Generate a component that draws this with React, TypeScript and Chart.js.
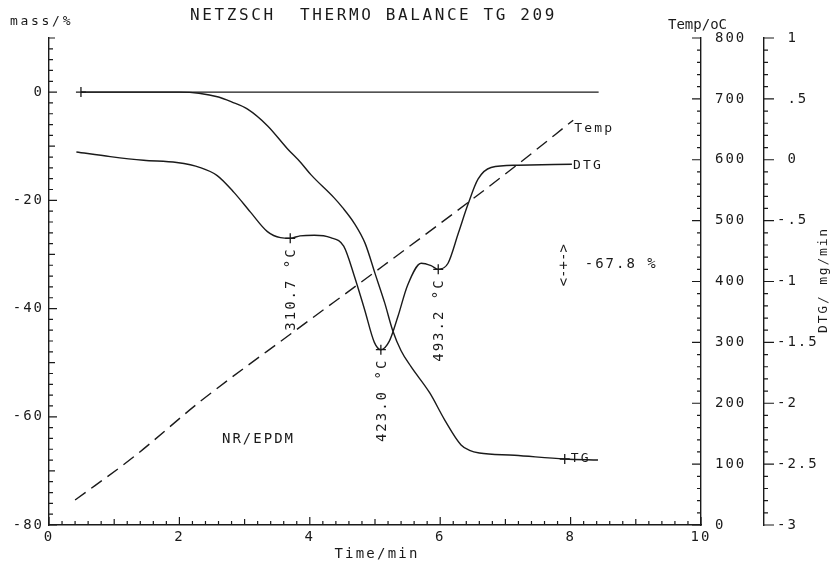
import React, { useEffect, useRef } from 'react';
import { Chart, registerables } from 'chart.js';

Chart.register(...registerables);

const INK = '#1a1a1a';
const FONT = "'DejaVu Sans Mono', 'Liberation Mono', monospace";

// ---- data ----
const tgTime = [0.49, 2.0, 2.3, 2.6, 2.8, 3.04, 3.35, 3.66, 3.86, 4.02, 4.37, 4.5, 4.68, 4.85, 5.0, 5.15, 5.27, 5.4, 5.55, 5.84, 6.07, 6.32, 6.45, 6.6, 7.14, 7.91, 8.42];
const tgMass = [0, 0, -0.2, -0.9, -1.8, -3.1, -6.2, -10.5, -13.0, -15.3, -19.5, -21.3, -24.2, -28.0, -33.5, -39, -44, -47.8, -50.7, -55.6, -60.6, -65.2, -66.2, -66.7, -67.1, -67.8, -68.0];

const dtgTime = [0.42, 0.94, 1.45, 1.96, 2.32, 2.58, 2.84, 3.09, 3.35, 3.55, 3.7, 3.85, 4.07, 4.32, 4.52, 4.68, 4.84, 4.99, 5.09, 5.22, 5.35, 5.5, 5.71, 5.86, 5.97, 6.12, 6.28, 6.43, 6.58, 6.78, 7.19, 8.02];
const dtgValue = [0.064, 0.026, -0.004, -0.023, -0.064, -0.13, -0.27, -0.43, -0.59, -0.64, -0.645, -0.625, -0.62, -0.64, -0.71, -0.95, -1.23, -1.5, -1.56, -1.49, -1.29, -1.03, -0.85, -0.87, -0.9, -0.85, -0.6, -0.36, -0.16, -0.064, -0.045, -0.037];

const tempTime = [0.4, 1.3, 2.32, 3.76, 4.99, 6.43, 7.22, 8.04];
const tempValue = [41, 112, 203, 318, 415, 530, 595, 665];

const baseTime = [0.49, 8.43];
const baseMass = [0, 0];

const tgMarkTime = [0.49, 7.91];
const tgMarkMass = [0, -67.8];

const peakTime = [3.7, 5.09, 5.97];
const peakDTG = [-0.645, -1.56, -0.9];
const peakLabels = ['310.7 °C', '423.0 °C', '493.2 °C'];

const stepTime = 7.91;
const stepMass = -32;
const stepLabel = '-67.8 %';

const timeTicks = [0, 2, 4, 6, 8, 10];
const timeTickLabels = ['0', '2', '4', '6', '8', '10'];
const massTicks = [0, -20, -40, -60, -80];
const massTickLabels = ['0', '-20', '-40', '-60', '-80'];
const tempTicks = [800, 700, 600, 500, 400, 300, 200, 100, 0];
const tempTickLabels = ['800', '700', '600', '500', '400', '300', '200', '100', '0'];
const dtgTicks = [1, 0.5, 0, -0.5, -1, -1.5, -2, -2.5, -3];
const dtgTickLabels = [' 1', ' .5', ' 0', '-.5', '-1', '-1.5', '-2', '-2.5', '-3'];

const pts = (xs: number[], ys: number[]) => xs.map((x, i) => ({ x, y: ys[i] }));

function text(
  ctx: CanvasRenderingContext2D,
  s: string,
  x: number,
  y: number,
  size: number,
  spacing: number,
  align: CanvasTextAlign = 'left',
  baseline: CanvasTextBaseline = 'middle',
  rot = 0
) {
  ctx.save();
  ctx.font = `${size}px ${FONT}`;
  (ctx as any).letterSpacing = `${spacing}px`;
  ctx.fillStyle = INK;
  ctx.textAlign = align;
  ctx.textBaseline = baseline;
  ctx.translate(x, y);
  if (rot) ctx.rotate(rot);
  ctx.fillText(s, 0, 0);
  ctx.restore();
}

const plotterPlugin = {
  id: 'plotter',
  beforeDraw(chart: any) {
    (chart.ctx as any).letterSpacing = '2px';
  },
  afterDraw(chart: any) {
    const { ctx, chartArea, scales } = chart;
    const x = scales.x, ym = scales.yMass, yt = scales.yTemp, yd = scales.yDTG;
    ctx.save();
    ctx.strokeStyle = INK;
    ctx.lineWidth = 1.2;
    ctx.beginPath();
    // mass axis ticks (inside)
    for (let i = 0; i <= 45; i++) {
      const v = -80 + 2 * i;
      const len = v % 20 === 0 ? 8 : v % 10 === 0 ? 6 : 4;
      const py = ym.getPixelForValue(v);
      ctx.moveTo(chartArea.left, py);
      ctx.lineTo(chartArea.left + len, py);
    }
    // time axis ticks (inside)
    for (let i = 0; i <= 50; i++) {
      const v = i * 0.2;
      const len = i % 10 === 0 ? 8 : i % 5 === 0 ? 6 : 4;
      const px = x.getPixelForValue(v);
      ctx.moveTo(px, chartArea.bottom);
      ctx.lineTo(px, chartArea.bottom - len);
    }
    // temp axis ticks (pointing left)
    for (let i = 0; i <= 40; i++) {
      const v = i * 20;
      const len = i % 5 === 0 ? 9 : 4;
      const py = yt.getPixelForValue(v);
      ctx.moveTo(chartArea.right, py);
      ctx.lineTo(chartArea.right - len, py);
    }
    // DTG axis ticks (pointing right)
    for (let i = 0; i <= 40; i++) {
      const v = -3 + i * 0.1;
      const len = i % 5 === 0 ? 10 : 4;
      const py = yd.getPixelForValue(v);
      ctx.moveTo(yd.left, py);
      ctx.lineTo(yd.left + len, py);
    }
    ctx.stroke();
    ctx.restore();

    // header texts
    text(ctx, 'NETZSCH  THERMO BALANCE TG 209', 190, 16, 16, 2.6);
    text(ctx, 'mass/%', 10, 25, 13, 2.7, 'left', 'alphabetic');
    text(ctx, 'Temp/oC', 668, 29, 14, 0, 'left', 'alphabetic');
    text(ctx, 'DTG/ mg/min', 824, 280, 13, 1.8, 'center', 'middle', -Math.PI / 2);
    text(ctx, 'Time/min', (chartArea.left + chartArea.right) / 2 + 2, 558, 14, 2.2, 'center', 'alphabetic');
    text(ctx, 'NR/EPDM', 222, 439, 14, 2);

    // curve labels
    const tEndX = x.getPixelForValue(tempTime[tempTime.length - 1]);
    const tEndY = yt.getPixelForValue(tempValue[tempValue.length - 1]);
    text(ctx, 'Temp', tEndX + 1, tEndY + 11.5, 13, 2.2, 'left', 'alphabetic');
    const dEndX = x.getPixelForValue(dtgTime[dtgTime.length - 1]);
    const dEndY = yd.getPixelForValue(dtgValue[dtgValue.length - 1]);
    text(ctx, 'DTG', dEndX + 1, dEndY + 1, 13, 2.2);
    const gX = x.getPixelForValue(tgMarkTime[1]);
    const gY = ym.getPixelForValue(tgMarkMass[1]);
    text(ctx, 'TG', gX + 6, gY, 13, 2.2);

    // peak labels
    peakTime.forEach((t, i) => {
      const px = x.getPixelForValue(t);
      const py = yd.getPixelForValue(peakDTG[i]);
      text(ctx, peakLabels[i], px + 1, py + 9, 14, 2, 'right', 'middle', -Math.PI / 2);
    });

    // mass step annotation
    const sX = x.getPixelForValue(stepTime);
    const sY = ym.getPixelForValue(stepMass);
    text(ctx, '<-+->', sX, sY, 14, 0, 'center', 'middle', -Math.PI / 2);
    text(ctx, stepLabel, sX + 20, sY - 1, 14, 2);
  },
};

const tickFont = { family: FONT, size: 14 };

export default function App() {
  const ref = useRef<HTMLCanvasElement | null>(null);

  useEffect(() => {
    if (!ref.current) return;
    const lineBase = {
      borderColor: INK,
      borderWidth: 1.4,
      pointRadius: 0,
      fill: false,
    };
    const markerBase = {
      showLine: false,
      pointStyle: 'cross',
      pointRadius: 5,
      pointBorderWidth: 1.3,
      pointBorderColor: INK,
      pointBackgroundColor: INK,
      borderColor: INK,
    };
    const chart = new Chart(ref.current, {
      type: 'line',
      data: {
        datasets: [
          { ...lineBase, label: 'base', data: pts(baseTime, baseMass), yAxisID: 'yMass' },
          { ...lineBase, label: 'TG', data: pts(tgTime, tgMass), yAxisID: 'yMass', cubicInterpolationMode: 'monotone' },
          { ...lineBase, label: 'DTG', data: pts(dtgTime, dtgValue), yAxisID: 'yDTG', cubicInterpolationMode: 'monotone' },
          { ...lineBase, label: 'Temp', data: pts(tempTime, tempValue), yAxisID: 'yTemp', borderDash: [13, 7], cubicInterpolationMode: 'monotone' },
          { ...markerBase, label: 'TG marks', data: pts(tgMarkTime, tgMarkMass), yAxisID: 'yMass' },
          { ...markerBase, label: 'DTG peaks', data: pts(peakTime, peakDTG), yAxisID: 'yDTG' },
        ] as any,
      },
      options: {
        animation: false,
        responsive: false,
        events: [],
        layout: { padding: { top: 38, left: 0, right: 0, bottom: 0 } },
        plugins: { legend: { display: false }, tooltip: { enabled: false } },
        scales: {
          x: {
            type: 'linear',
            position: 'bottom',
            min: 0,
            max: 10,
            afterBuildTicks: (s: any) => { s.ticks = timeTicks.map((v) => ({ value: v })); },
            afterFit: (s: any) => { s.height = 39; },
            grid: { display: true, drawOnChartArea: false, drawTicks: false },
            border: { display: true, color: INK, width: 1.4 },
            ticks: {
              font: tickFont, color: INK, padding: 4, autoSkip: false, maxRotation: 0,
              callback: (v: any) => timeTickLabels[timeTicks.indexOf(Number(v))],
            },
          },
          yMass: {
            type: 'linear',
            position: 'left',
            min: -80,
            max: 10,
            afterBuildTicks: (s: any) => { s.ticks = massTicks.map((v) => ({ value: v })); },
            afterFit: (s: any) => { s.width = 49; },
            grid: { display: true, drawOnChartArea: false, drawTicks: false },
            border: { display: true, color: INK, width: 1.4 },
            ticks: {
              font: tickFont, color: INK, padding: 5,
              callback: (v: any) => massTickLabels[massTicks.indexOf(Number(v))],
            },
          },
          yTemp: {
            type: 'linear',
            position: 'right',
            weight: 0,
            min: 0,
            max: 800,
            afterBuildTicks: (s: any) => { s.ticks = tempTicks.map((v) => ({ value: v })); },
            afterFit: (s: any) => { s.width = 63; },
            grid: { display: true, drawOnChartArea: false, drawTicks: false },
            border: { display: true, color: INK, width: 1.4 },
            ticks: {
              font: tickFont, color: INK, padding: 14,
              callback: (v: any) => tempTickLabels[tempTicks.indexOf(Number(v))],
            },
          },
          yDTG: {
            type: 'linear',
            position: 'right',
            weight: 1,
            min: -3,
            max: 1,
            afterBuildTicks: (s: any) => { s.ticks = dtgTicks.map((v) => ({ value: v })); },
            afterFit: (s: any) => { s.width = 73; },
            grid: { display: true, drawOnChartArea: false, drawTicks: false },
            border: { display: true, color: INK, width: 1.4 },
            ticks: {
              font: tickFont, color: INK, padding: 13,
              callback: (v: any) => dtgTickLabels[dtgTicks.indexOf(Number(v))],
            },
          },
        },
      } as any,
      plugins: [plotterPlugin],
    });
    return () => chart.destroy();
  }, []);

  return (
    <canvas
      ref={ref}
      width={837}
      height={564}
      style={{ position: 'absolute', left: 0, top: 0, display: 'block', width: 837, height: 564 }}
    />
  );
}
